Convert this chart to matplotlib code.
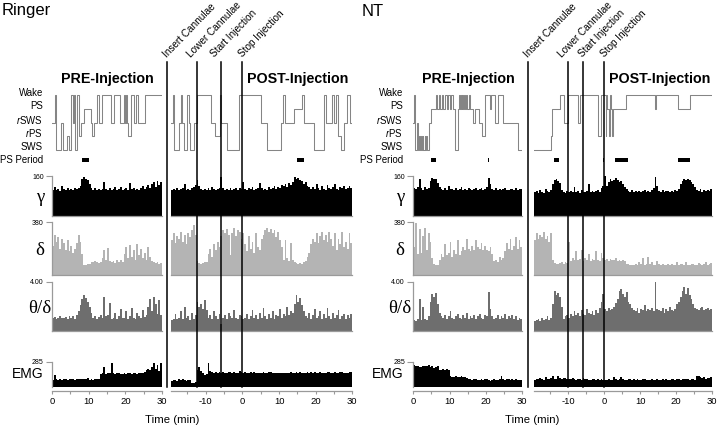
import numpy as np
import matplotlib
matplotlib.use("Agg")
import matplotlib.pyplot as plt
from matplotlib.lines import Line2D
from matplotlib.transforms import blended_transform_factory

plt.rcParams['font.family'] = ['Liberation Sans', 'DejaVu Sans']
plt.rcParams['axes.unicode_minus'] = False
plt.rcParams['mathtext.fontset'] = 'custom'
plt.rcParams['mathtext.rm'] = 'Liberation Sans'
plt.rcParams['mathtext.it'] = 'Liberation Sans:italic'

W, H = 720, 429
BIN = 0.5
PRE_EDGES = np.arange(0, 30 + BIN / 2, BIN)
POST_EDGES = np.arange(-19.5, 30 + BIN / 2, BIN)

# ---------------- Ringer ----------------
ringer_gamma_pre = [104, 118, 106, 110, 102, 120, 108, 104, 112, 106, 110, 104, 114, 108,
                    112, 122, 148, 156, 150, 146, 128, 112, 106, 114, 104, 110, 106, 108,
                    138, 110, 106, 112, 104, 110, 116, 106, 108, 118, 104, 110, 112, 106,
                    132, 108, 114, 106, 110, 104, 112, 120, 108, 116,
                    124, 112, 130, 138, 118, 142, 126, 136]
ringer_gamma_post = [104, 110, 106, 112, 104, 108, 114, 128, 106, 110, 104, 112, 118, 124,
                     146, 120,
                     108, 104, 110, 106, 112, 104, 116, 108, 104, 110, 112,
                     158, 112,
                     104, 110, 106, 112, 104, 108, 114, 106, 112, 110,
                     136, 110,
                     104, 112, 108, 116, 106, 110, 114,
                     134, 112,
                     106, 110, 104, 116, 108, 112, 120, 108, 118, 114, 124,
                     122, 130, 118, 134, 126, 138,
                     156, 150, 152, 144, 140,
                     128, 136, 120, 116,
                     108, 118, 110, 130, 112, 106, 120, 110, 104, 124, 112, 108, 116, 128,
                     110, 106, 118, 112, 122, 108, 114, 120, 112]
ringer_delta_pre = [210, 290, 240, 275, 190, 260, 230, 180, 250, 170, 205, 160, 190, 230, 285,
                    240, 150,
                    72, 70, 76, 82, 90, 96, 100, 92, 88, 96,
                    120, 180, 110, 195, 100,
                    95, 100, 88, 110, 92, 104, 90,
                    150, 200, 120, 215, 130, 180, 110, 225, 140, 190, 120,
                    160, 110, 200, 130, 100,
                    90, 84, 96, 80, 88]
ringer_delta_post = [250, 300, 230, 280, 260, 310, 240, 290, 220, 300, 270, 320, 358, 290,
                     100, 84, 80, 86, 90, 96,
                     150, 190, 130, 220, 180, 240, 200,
                     280, 320, 300, 330, 290,
                     140,
                     300, 340, 280, 325, 310, 260, 300,
                     220, 170, 280, 190, 240, 160, 300, 200, 180, 260,
                     290, 320, 340, 310, 330, 300, 320, 270, 310, 250,
                     200, 110, 250, 120, 100, 230, 110,
                     90, 84, 80, 86, 82, 90, 100, 130, 160,
                     220, 260, 240, 300, 230, 280, 310, 250, 290, 240, 310, 260,
                     210, 300, 180, 260, 220, 310, 200, 240, 190, 300, 230]
ringer_theta_pre = [1.05, 1.15, 1.0, 1.1, 1.2, 1.05, 1.1, 1.15, 1.0, 1.2, 1.1, 1.25, 1.0, 1.3,
                    1.6, 2.1, 2.6, 2.95, 2.7, 2.4, 2.0, 1.5,
                    1.1, 1.2, 1.0, 1.15, 1.3, 1.1,
                    2.8, 1.2, 1.3, 2.3,
                    1.0, 1.1, 1.5, 1.0, 1.2, 1.8, 1.05, 1.1, 1.6, 1.0,
                    1.25, 1.9, 1.1, 1.0, 1.5, 1.2, 1.05, 1.7, 1.15, 1.3,
                    2.0, 2.6, 1.6, 2.8, 2.2, 1.4, 2.5, 1.3]
ringer_theta_post = [0.9, 1.0, 1.4, 0.95, 1.1, 1.6, 1.0, 2.0, 1.05, 1.2, 0.9, 1.5, 1.0, 1.3,
                     2.4, 2.0, 2.2, 1.8, 2.5, 1.7,
                     1.1, 1.3, 1.0, 1.6, 1.2, 1.0, 1.4, 0.6, 1.1, 1.3,
                     1.0, 1.5, 1.2, 1.05, 1.7, 1.1, 1.0, 1.3, 1.2, 1.0,
                     1.1, 1.4, 1.0, 1.2, 1.7, 1.05, 1.3, 1.0, 1.5, 1.1,
                     1.9, 1.2, 1.0, 1.4, 1.1, 1.6, 1.0, 1.3, 1.2, 1.8,
                     1.1, 1.4, 1.2, 2.0, 1.3, 1.6, 1.5,
                     2.2, 2.9, 2.4, 2.7, 2.1, 1.6, 1.2,
                     1.1, 1.5, 1.0, 1.3, 1.8, 1.05, 1.2, 1.6, 1.0, 1.4,
                     1.1, 1.9, 1.2, 1.0, 1.5, 1.1, 1.3, 1.7, 1.0, 1.2,
                     1.4, 1.0, 1.3, 1.1, 1.4]
ringer_emg_pre = [80, 135, 86, 84, 88, 82, 86, 90, 84, 96, 86, 88, 82, 90, 86, 94, 92, 90,
                  86, 98, 84, 88, 80, 92, 86, 95,
                  150, 160, 225, 150, 158, 164,
                  275, 160, 150, 155,
                  160, 152, 150, 158, 148, 162, 155, 150, 160, 154, 150, 158, 162, 156,
                  170, 190, 210, 195, 230, 272, 200, 250, 180, 275]
ringer_emg_post = [70, 76, 82, 74, 86, 80, 90, 78, 72, 84, 75,
                   50, 48, 52,
                   195, 225, 180, 160, 140, 150,
                   270, 180,
                   168, 165, 170, 164, 166, 162, 168, 165, 163, 170,
                   166, 164, 168, 162, 165, 186, 166, 164, 168, 163,
                   165, 170, 162, 166, 164, 160, 163, 165, 168, 162,
                   164, 175, 166, 160, 158, 156, 160, 162, 164, 158,
                   156, 160, 165, 170, 162, 164, 166, 160, 168, 163,
                   165, 162, 170, 164, 166, 160, 172, 164, 162, 168,
                   165, 160, 163, 170, 166, 162, 164, 168, 160, 163,
                   166, 170, 162, 164, 165, 168, 172]

# hypnogram: 5 Wake, 4 PS, 3 rSWS, 2 rPS, 1 SWS
ringer_hyp_pre_t = [0, 0.7, 1.2, 2.4, 2.9, 4.0, 4.5, 5.3, 5.7, 5.9, 6.2, 6.9, 7.4, 8.0, 8.7,
                    10.5, 11.0, 11.5, 12.4, 12.8, 13.5, 16.0, 17.0, 18.5, 19.6, 19.9, 20.1,
                    20.4, 20.7, 21.6, 22.4, 23.0, 23.5, 25.3]
ringer_hyp_pre_s = [3, 5, 1, 3, 1, 2, 1, 5, 3, 5, 1, 5, 2, 3, 4,
                    3, 2, 3, 5, 3, 5, 3, 5, 3, 5, 3, 5,
                    3, 2, 5, 3, 5, 3, 5]
ringer_hyp_post_t = [-19.5, -19.0, -18.6, -17.2, -16.8, -16.4, -16.0, -15.0, -14.6, -14.3,
                     -13.1, -12.4, -8.6, -7.5, -6.2, -5.9, -4.2, -0.9, 5.0, 6.8, 10.5, 11.0,
                     11.6, 14.2, 16.2, 16.7, 19.6, 22.3, 22.8, 24.5, 25.0, 25.5, 26.0, 26.8,
                     27.8, 28.5, 29.3]
ringer_hyp_post_s = [3, 5, 1, 3, 5, 3, 1, 5, 3, 1,
                     3, 5, 3, 2, 5, 3, 1, 5, 3, 1, 3, 5,
                     3, 4, 5, 3, 1, 5, 3, 5, 3, 5, 2, 1,
                     3, 5, 3]
ringer_ps_pre = [(8.3, 10.1)]
ringer_ps_post = [(14.8, 16.8)]
ringer_events = [-20.6, -12.4, -5.9, 0.0]
ringer_event_text_x = [-20.6, -14.1, -7.5, 0.0]

# ---------------- NT ----------------
nt_gamma_pre = [112, 108, 118, 150, 112, 104, 118, 108, 112,
                140, 152, 148, 150, 132,
                118, 110, 106, 112, 104, 120, 108, 110, 104, 112, 106, 108, 116, 104,
                110, 106, 112, 108, 104, 110, 112, 106, 108, 114, 104, 110, 118,
                152, 128,
                108, 104, 112, 106, 110, 104, 108, 112, 106, 104, 110, 108, 104, 112,
                106, 110, 108]
nt_gamma_post = [96, 100, 94, 104, 98, 92, 108, 100, 96, 104,
                 130, 145, 148, 140, 132,
                 106, 98, 94, 100, 96, 102, 98, 118, 96, 100, 94, 104, 98, 96, 100, 128,
                 98, 102, 96, 100, 104, 98, 112, 120,
                 160,
                 120, 138, 150, 140, 146, 152, 144, 138, 142, 130, 118, 110,
                 100, 96, 104, 98, 100, 96, 102, 98, 100, 104, 96, 100, 98, 104, 112,
                 156, 120,
                 100, 98, 104, 96, 100, 102, 98, 100, 96, 104, 100, 110,
                 130, 142, 148, 144, 150, 146, 138, 130, 118,
                 104, 100, 108, 98, 104, 100, 106, 102, 110]
nt_delta_pre = [200, 370, 150, 330, 160, 280, 340, 180, 300, 240,
                120, 80, 72, 70,
                110, 150, 130, 220, 140, 160, 240, 130, 180, 150, 250, 140,
                170, 200, 180, 260, 190, 170, 210, 180, 250, 200, 190, 230, 180,
                210, 180, 170, 200, 150,
                100, 110, 95, 130, 105, 120,
                170, 230, 190, 260, 180, 210, 270, 190, 250, 200]
nt_delta_post = [250, 300, 260, 290, 270, 310, 260, 280, 240, 300,
                 110, 84, 80, 76, 86, 90, 82, 95, 88,
                 240,
                 100, 120, 110, 170, 105, 115, 180, 100, 120, 110, 150, 100, 112, 105,
                 170, 110, 100, 160, 120,
                 105, 112, 100, 118, 108, 104, 120, 100, 110, 98, 106, 100,
                 76, 80, 72, 70, 74, 78, 72, 90, 76, 120,
                 74, 80, 130, 76, 90, 72, 74, 100, 78, 72,
                 76, 70, 74, 80, 72, 76, 70, 74, 95, 72,
                 76, 80, 72, 90, 74, 72, 80, 76, 70, 74,
                 85, 76, 72, 80, 90, 74, 78, 88]
nt_theta_pre = [0.9, 0.8, 1.0, 2.6, 0.9, 2.0, 1.0, 0.9, 1.2,
                2.4, 3.0, 2.8, 3.1, 2.2,
                1.5, 1.2, 1.1, 1.3, 1.0, 1.2, 1.6, 1.1, 1.0, 1.2, 1.4, 1.1, 1.0, 1.3,
                1.1, 1.5, 1.0, 1.2, 1.1, 1.3, 1.0, 1.2, 1.4, 1.1, 1.0, 1.3, 1.2,
                3.2, 1.8,
                1.2, 1.0, 1.1, 1.3, 1.0, 1.2, 1.1, 1.4, 1.0, 1.2, 1.1, 1.3, 1.0, 1.2,
                0.9, 1.1, 1.0]
nt_theta_post = [0.8, 0.9, 1.0, 0.85, 1.1, 0.9, 1.0, 1.2, 0.9, 1.1,
                 2.2, 3.3, 2.9, 3.1, 2.8, 2.0,
                 1.0, 1.2, 1.3, 1.1, 1.4, 1.2, 1.6, 1.3, 1.5, 1.2, 1.7, 1.4, 1.3, 1.8,
                 1.5, 1.4, 1.6, 1.3, 1.7, 1.5, 1.9, 2.4, 3.0,
                 1.8, 1.6, 1.9, 1.7, 1.8, 2.0, 2.3,
                 2.6, 3.3, 3.4, 3.0, 2.8, 3.2, 2.4, 2.2, 1.9,
                 1.7, 1.6, 1.9, 1.5, 1.8, 1.7, 2.1, 1.6, 1.8, 1.7, 1.9, 1.6,
                 4.0, 1.8,
                 1.7, 1.6, 1.9, 1.5, 1.8, 1.6, 2.0, 1.7, 1.6, 1.8, 2.2, 2.4,
                 2.8, 3.3, 3.6, 3.0, 3.5, 2.9, 2.6, 2.2, 1.9,
                 1.8, 1.7, 1.9, 2.0, 1.7, 1.8, 1.9, 1.7, 1.8]
nt_emg_pre = [250, 240, 238, 225, 232, 240, 236, 244, 250, 230, 240, 215, 226, 234,
              195, 190, 200, 195, 205, 198,
              130, 118, 112, 120, 116, 110, 125, 118, 112,
              100, 86, 94, 82, 90, 96, 84, 80, 88, 78,
              92, 86, 80, 74, 84, 88, 78, 82, 86, 130,
              90, 82, 94, 88, 80, 86, 84, 90, 78, 76, 80]
nt_emg_post = [80, 90, 86, 100, 92, 84, 110, 96, 88, 104,
               120, 90, 94, 130, 98, 88, 100, 108, 92, 86,
               96, 104, 90, 84, 94, 88, 82, 100, 86, 90,
               84, 78, 92, 86, 80, 88, 84, 90, 80, 76,
               82, 88, 78, 84, 110, 90, 82, 86, 118, 92,
               84, 80, 88, 96, 82, 86, 80, 90, 84, 78,
               92, 86, 80, 84, 76, 88, 82, 80, 86, 78,
               84, 90, 82, 86, 80, 84, 88, 94, 82, 86,
               90, 84, 92, 86, 88, 96, 84, 90, 88, 82,
               130, 120, 110, 100, 114, 96, 108, 100, 112]

nt_hyp_pre_t = [0, 0.2, 0.6, 1.0, 1.2, 1.6, 1.8, 2.1, 2.3, 2.6, 2.8, 3.1, 3.3, 3.6, 3.8,
                4.2, 4.9, 6.2, 6.6, 7.0, 7.4, 7.8, 8.2, 8.6, 9.2, 9.6, 10.0, 10.4, 11.0,
                11.6, 12.2, 12.5, 12.8, 13.0, 13.3, 13.5, 13.8, 14.0, 14.3, 14.6, 14.9,
                15.2, 15.6, 16.5, 17.0, 18.0, 18.8, 19.6, 21.0, 21.4, 22.6, 23.3, 24.6,
                28.8]
nt_hyp_pre_s = [3, 5, 1, 3, 1, 2, 1, 2, 1, 2, 1, 2, 1, 2, 1,
                3, 4, 5, 4, 5, 4, 5, 4, 5, 4, 5, 4, 5, 4,
                1, 4, 5, 4, 5, 4, 5, 4, 5, 4, 5, 4,
                5, 4, 3, 4, 3, 2, 5, 4, 5, 3, 5, 3,
                1]
nt_hyp_post_t = [-19.5, -14.9, -14.4, -12.2, -11.2, -10.1, -7.2, -6.8, -1.7, -0.9, 0.4,
                 0.6, 0.9, 1.2, 1.5, 1.8, 2.1, 2.4, 6.1, 14.0, 14.5, 20.5, 23.7]
nt_hyp_post_s = [1, 2, 4, 5, 3, 5, 3, 5, 2, 5, 2,
                 5, 4, 2, 5, 4, 2, 4, 5, 4, 5, 4, 5]
nt_ps_pre = [(5.0, 6.2), (20.5, 20.7)]
nt_ps_post = [(-14.0, -12.5), (-0.3, -0.15), (3.0, 6.7), (14.3, 14.5), (20.6, 23.8)]
nt_events = [-21.3, -10.0, -6.0, 0.0]
nt_event_text_x = [-21.3, -11.7, -6.0, 0.0]

EVENT_NAMES = ["Insert Cannulae", "Lower Cannulae", "Start Injection", "Stop Injection"]
STATE_NAMES = ["Wake", "PS", r"$\mathit{r}$SWS", r"$\mathit{r}$PS", "SWS"]
PS_LEVEL = 0.25

GRAY = '#9a9a9a'
HYP_COLOR = '#858585'

PANELS = [
    dict(title="Ringer", off=0, pre=(52, 162), post=(171, 352.3),
         gamma=(ringer_gamma_pre, ringer_gamma_post),
         delta=(ringer_delta_pre, ringer_delta_post),
         theta=(ringer_theta_pre, ringer_theta_post),
         emg=(ringer_emg_pre, ringer_emg_post),
         hyp=((ringer_hyp_pre_t, ringer_hyp_pre_s), (ringer_hyp_post_t, ringer_hyp_post_s)),
         ps=(ringer_ps_pre, ringer_ps_post),
         events=ringer_events, event_text=ringer_event_text_x),
    dict(title="NT", off=360, pre=(413.3, 522.3), post=(534, 712.3),
         gamma=(nt_gamma_pre, nt_gamma_post),
         delta=(nt_delta_pre, nt_delta_post),
         theta=(nt_theta_pre, nt_theta_post),
         emg=(nt_emg_pre, nt_emg_post),
         hyp=((nt_hyp_pre_t, nt_hyp_pre_s), (nt_hyp_post_t, nt_hyp_post_s)),
         ps=(nt_ps_pre, nt_ps_post),
         events=nt_events, event_text=nt_event_text_x),
]

# key, top px, bottom px, ymax, tick text, color, row label, label font
ROWS = [
    ('gamma', 176, 216, 160, '160', 'black', 'γ', 'serif'),
    ('delta', 222, 275, 380, '380', '#b4b4b4', 'δ', 'serif'),
    ('theta', 282, 331, 4.0, '4.00', '#6e6e6e', 'θ/δ', 'serif'),
    ('emg', 362, 387, 285, '285', 'black', 'EMG', 'sans'),
]

fig = plt.figure(figsize=(W / 100, H / 100), dpi=100)


def px_rect(x0, x1, y0, y1):
    return [x0 / W, 1 - y1 / H, (x1 - x0) / W, (y1 - y0) / H]


def ftext(x, y, s, **kw):
    return fig.text(x / W, 1 - y / H, s, **kw)


for p in PANELS:
    off = p['off']
    segs = [(p['pre'], (0, 30), PRE_EDGES), (p['post'], (-19.5, 30), POST_EDGES)]
    post_axes = None

    # hypnograms
    for k, ((x0, x1), xlim, edges) in enumerate(segs):
        ax = fig.add_axes(px_rect(x0, x1, 88.5, 167.4))
        ax.set_xlim(*xlim)
        ax.set_ylim(-0.3, 5.5)
        ax.axis('off')
        tt, ss = p['hyp'][k]
        ax.step(list(tt) + [xlim[1]], list(ss) + [ss[-1]], where='post',
                color=HYP_COLOR, lw=0.75)
        ax.broken_barh([(a, b - a) for a, b in p['ps'][k]], (PS_LEVEL - 0.17, 0.34),
                       facecolor='black', edgecolor='none')
        if k == 1:
            post_axes = ax

    # state labels
    tr_h = blended_transform_factory(fig.transFigure, post_axes.transData)
    for i, name in enumerate(STATE_NAMES):
        fig.text((off + 43) / W, 5 - i + 0.2, name, transform=tr_h, ha='right',
                 va='center', fontsize=6.9)
    fig.text((off + 43) / W, PS_LEVEL, "PS Period", transform=tr_h, ha='right',
             va='center', fontsize=6.9)

    # histogram rows
    for key, top, bot, ymax, ytxt, color, label, fam in ROWS:
        for k, ((x0, x1), xlim, edges) in enumerate(segs):
            ax = fig.add_axes(px_rect(x0, x1, top, bot))
            ax.stairs(p[key][k], edges, fill=True, color=color, lw=0)
            ax.set_xlim(*xlim)
            ax.set_ylim(0, ymax)
            ax.patch.set_visible(False)
            for s in ['top', 'right']:
                ax.spines[s].set_visible(False)
            ax.spines['bottom'].set_color(GRAY)
            ax.spines['bottom'].set_linewidth(0.9)
            if k == 0:
                ax.spines['left'].set_color(GRAY)
                ax.spines['left'].set_linewidth(0.9)
                ax.set_yticks([ymax])
                ax.set_yticklabels([ytxt], fontsize=5)
                ax.tick_params(axis='y', length=4.5, width=0.8, color=GRAY, pad=1.5)
            else:
                ax.spines['left'].set_visible(False)
                ax.set_yticks([])
            if key == 'emg':
                ax.spines['bottom'].set_position(('outward', 3))
                if k == 0:
                    ax.set_xticks([0, 10, 20, 30])
                    ax.set_xticks([5, 15, 25], minor=True)
                else:
                    ax.set_xticks([-10, 0, 10, 20, 30])
                    ax.set_xticks([-15, -5, 5, 15, 25], minor=True)
                ax.tick_params(axis='x', which='both', length=2.5, width=0.8, color=GRAY,
                               labelsize=6.8, pad=1.5)
            else:
                ax.set_xticks([])
        yc = (top + bot) / 2 + (2 if key != 'emg' else -1)
        if fam == 'serif':
            ftext(off + 40, yc, label, ha='center', va='center', fontsize=13.5,
                  family=['Liberation Serif', 'DejaVu Serif'])
        else:
            ftext(off + 27.5, yc, label, ha='center', va='center', fontsize=10)

    # event lines and labels
    tr_e = blended_transform_factory(post_axes.transData, fig.transFigure)
    for t, tx, name in zip(p['events'], p['event_text'], EVENT_NAMES):
        fig.add_artist(Line2D([t, t], [1 - 62 / H, 1 - 387 / H], transform=tr_e,
                              color='black', lw=1.1))
        fig.text(tx, 1 - 58 / H, name, transform=tr_e, rotation=46,
                 rotation_mode='anchor', ha='left', va='baseline', fontsize=7.2)

    # titles and headings
    ftext(off + 2, 11, p['title'], ha='left', va='center', fontsize=12)
    ftext(off + 107 + (1 if off else 0), 79.5, "PRE-Injection", ha='center', va='center',
          fontsize=10.3, fontweight='bold')
    ftext(off + 298 + (2 if off else 0), 79.5, "POST-Injection", ha='center', va='center',
          fontsize=10.3, fontweight='bold')
    ftext(off + 172, 420, "Time (min)", ha='center', va='center', fontsize=8.2)

fig.savefig("out.png", dpi=100)
